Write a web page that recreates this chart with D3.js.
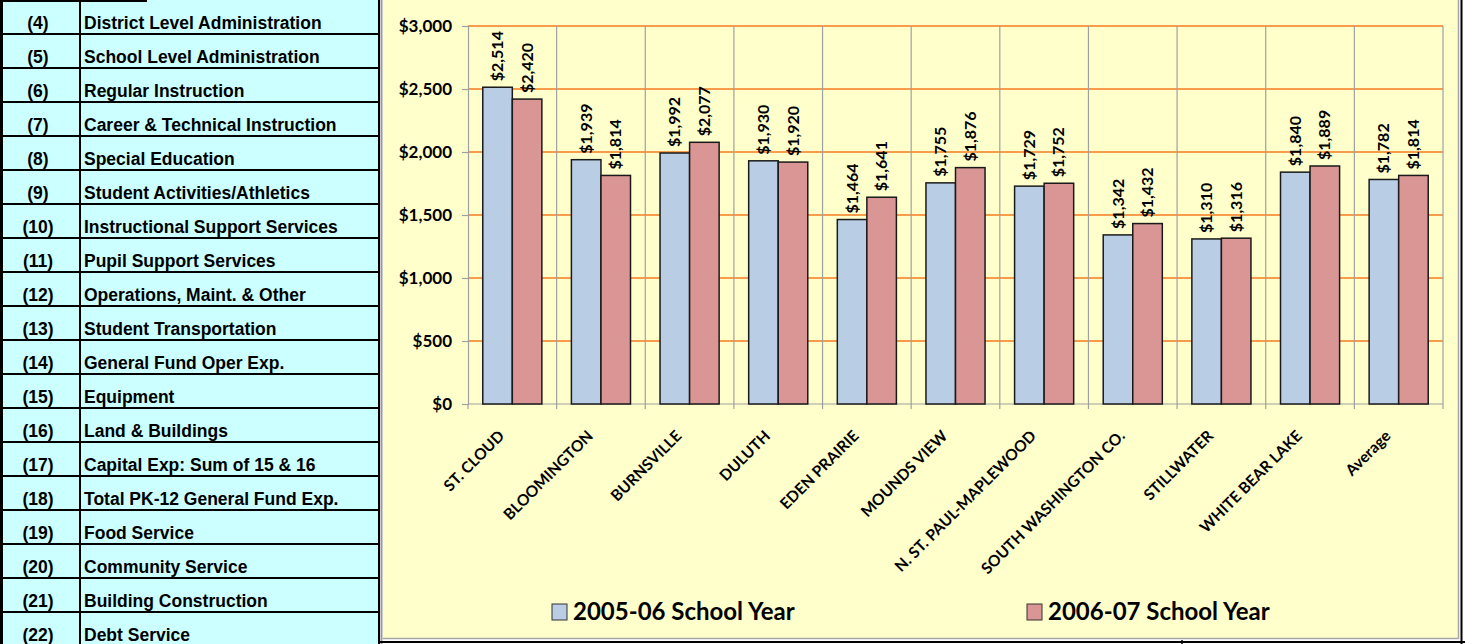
<!DOCTYPE html>
<html>
<head>
<meta charset="utf-8">
<script src="https://cdn.jsdelivr.net/npm/d3@7/dist/d3.min.js"></script>
<style>
html,body{margin:0;padding:0;background:#fff;}
svg{display:block;}
</style>
</head>
<body>
<svg id="chart" width="1465" height="644"></svg>
<script>
const rowNumbers = ["(4)","(5)","(6)","(7)","(8)","(9)","(10)","(11)","(12)","(13)","(14)","(15)","(16)","(17)","(18)","(19)","(20)","(21)","(22)"];
const rowLabels = ["District Level Administration","School Level Administration","Regular Instruction","Career & Technical Instruction","Special Education","Student Activities/Athletics","Instructional Support Services","Pupil Support Services","Operations, Maint. & Other","Student Transportation","General Fund Oper Exp.","Equipment","Land & Buildings","Capital Exp: Sum of 15 & 16","Total PK-12 General Fund Exp.","Food Service","Community Service","Building Construction","Debt Service"];

const categories = ["ST. CLOUD","BLOOMINGTON","BURNSVILLE","DULUTH","EDEN PRAIRIE","MOUNDS VIEW","N. ST. PAUL-MAPLEWOOD","SOUTH WASHINGTON CO.","STILLWATER","WHITE BEAR LAKE","Average"];
const seriesNames = ["2005-06 School Year","2006-07 School Year"];
const values2005 = [2514,1939,1992,1930,1464,1755,1729,1342,1310,1840,1782];
const values2006 = [2420,1814,2077,1920,1641,1876,1752,1432,1316,1889,1814];
const yTicks = [0,500,1000,1500,2000,2500,3000];

const svg = d3.select("#chart");
const colors = ["#B9CDE5","#D99694"];

// ---------- Left table ----------
const rowH = 34;
const tbl = svg.append("g");
tbl.append("rect").attr("x",0).attr("y",0).attr("width",380).attr("height",644).attr("fill","#CCFFFF");
const rowY = d3.scaleBand().domain(d3.range(rowLabels.length)).range([0,rowH*rowLabels.length]);
const tFont = "Liberation Sans, Arial, sans-serif";
rowLabels.forEach((lab,i)=>{
  const y0 = rowY(i);
  tbl.append("text").attr("x",38).attr("y",y0+29).attr("text-anchor","middle")
    .attr("font-family",tFont).attr("font-weight","bold").attr("font-size",17.5)
    .attr("fill","#000").text(rowNumbers[i]);
  tbl.append("text").attr("x",84).attr("y",y0+29)
    .attr("font-family",tFont).attr("font-weight","bold").attr("font-size",17.5)
    .attr("fill","#000").text(lab);
  if(i>0){
    tbl.append("line").attr("x1",0).attr("x2",380).attr("y1",y0).attr("y2",y0).attr("stroke","#000").attr("stroke-width",2);
  }
});
tbl.append("line").attr("x1",0).attr("x2",147).attr("y1",1).attr("y2",1).attr("stroke","#000").attr("stroke-width",2);
tbl.append("line").attr("x1",1.5).attr("x2",1.5).attr("y1",0).attr("y2",644).attr("stroke","#000").attr("stroke-width",3);
tbl.append("line").attr("x1",80).attr("x2",80).attr("y1",0).attr("y2",644).attr("stroke","#000").attr("stroke-width",2);
tbl.append("line").attr("x1",379).attr("x2",379).attr("y1",0).attr("y2",644).attr("stroke","#000").attr("stroke-width",2);
tbl.append("line").attr("x1",381.5).attr("x2",381.5).attr("y1",0).attr("y2",644).attr("stroke","#9a9a9a").attr("stroke-width",2);

// ---------- Chart area ----------
svg.append("rect").attr("x",383).attr("y",0).attr("width",1075).attr("height",638).attr("fill","#FFFFCC");
svg.append("line").attr("x1",383).attr("x2",1459).attr("y1",638.5).attr("y2",638.5).attr("stroke","#A6A6A6").attr("stroke-width",1.5);
svg.append("line").attr("x1",1458.5).attr("x2",1458.5).attr("y1",0).attr("y2",639).attr("stroke","#A6A6A6").attr("stroke-width",1.5);
svg.append("line").attr("x1",380).attr("x2",1465).attr("y1",642).attr("y2",642).attr("stroke","#000").attr("stroke-width",2);
svg.append("line").attr("x1",1461.5).attr("x2",1461.5).attr("y1",0).attr("y2",644).attr("stroke","#000").attr("stroke-width",2);
svg.append("line").attr("x1",1182).attr("x2",1182).attr("y1",640).attr("y2",644).attr("stroke","#000").attr("stroke-width",1.5);

const x = d3.scaleBand().domain(categories).range([468,1443]).padding(0);
const y = d3.scaleLinear().domain([0,3000]).range([404,26]);
const bw = x.bandwidth();
const font = "Lato, 'Open Sans', sans-serif";

// horizontal gridlines
svg.append("g").selectAll("line").data(yTicks.filter(d=>d>0)).join("line")
  .attr("x1",468).attr("x2",1443).attr("y1",d=>y(d)).attr("y2",d=>y(d))
  .attr("stroke","#F47B20").attr("stroke-width",1.3);
// vertical gridlines
const bounds = categories.map(c=>x(c)).concat([x(categories[categories.length-1])+bw]);
svg.append("g").selectAll("line").data(bounds.slice(1)).join("line")
  .attr("x1",d=>d).attr("x2",d=>d).attr("y1",26).attr("y2",404)
  .attr("stroke","#A0A0A0").attr("stroke-width",1.2);

// y axis
const yAxis = svg.append("g").attr("transform","translate(468,0)")
  .call(d3.axisLeft(y).tickValues(yTicks).tickSize(6).tickPadding(10).tickFormat(d=>"$"+d3.format(",")(d)));
yAxis.select(".domain").attr("stroke","#A0A0A0").attr("stroke-width",1.2);
yAxis.selectAll(".tick line").attr("stroke","#A0A0A0").attr("stroke-width",1.2);
yAxis.selectAll(".tick text").attr("font-family",font).attr("font-weight","bold").attr("font-size",17).attr("fill","#000");

// x axis line with ticks at boundaries
svg.append("line").attr("x1",468).attr("x2",1443).attr("y1",404).attr("y2",404).attr("stroke","#A0A0A0").attr("stroke-width",1.2);
svg.append("g").selectAll("line").data(bounds).join("line")
  .attr("x1",d=>d).attr("x2",d=>d).attr("y1",404).attr("y2",409)
  .attr("stroke","#A0A0A0").attr("stroke-width",1.2);

// bars
const series = [values2005, values2006];
series.forEach((vals,si)=>{
  const g = svg.append("g");
  g.selectAll("rect").data(categories).join("rect")
    .attr("x",(c)=>x(c)+bw/6+si*bw/3)
    .attr("y",(c,i)=>y(vals[i]))
    .attr("width",bw/3)
    .attr("height",(c,i)=>y(0)-y(vals[i]))
    .attr("fill",colors[si]).attr("stroke","#1a1a1a").attr("stroke-width",1.5);
  g.selectAll("text").data(categories).join("text")
    .attr("transform",(c,i)=>`translate(${x(c)+bw/6+si*bw/3+bw/6+5.5},${y(vals[i])-6}) rotate(-90)`)
    .attr("font-family",font).attr("font-weight","bold").attr("font-size",16).attr("fill","#000")
    .text((c,i)=>"$"+d3.format(",")(vals[i]));
});

// x labels
svg.append("g").selectAll("text").data(categories).join("text")
  .attr("transform",c=>`translate(${x(c)+bw/2-7},437) rotate(-45)`)
  .attr("text-anchor","end")
  .attr("font-family",font).attr("font-weight","bold").attr("font-size",15.5).attr("fill","#000")
  .text(c=>c);

// legend
const legX = [552,1027];
seriesNames.forEach((n,i)=>{
  svg.append("rect").attr("x",legX[i]).attr("y",604).attr("width",15).attr("height",16)
    .attr("fill",colors[i]).attr("stroke","#333").attr("stroke-width",1);
  svg.append("text").attr("x",legX[i]+21).attr("y",620)
    .attr("font-family",font).attr("font-weight","bold").attr("font-size",24).attr("fill","#000").text(n);
});
</script>
</body>
</html>
